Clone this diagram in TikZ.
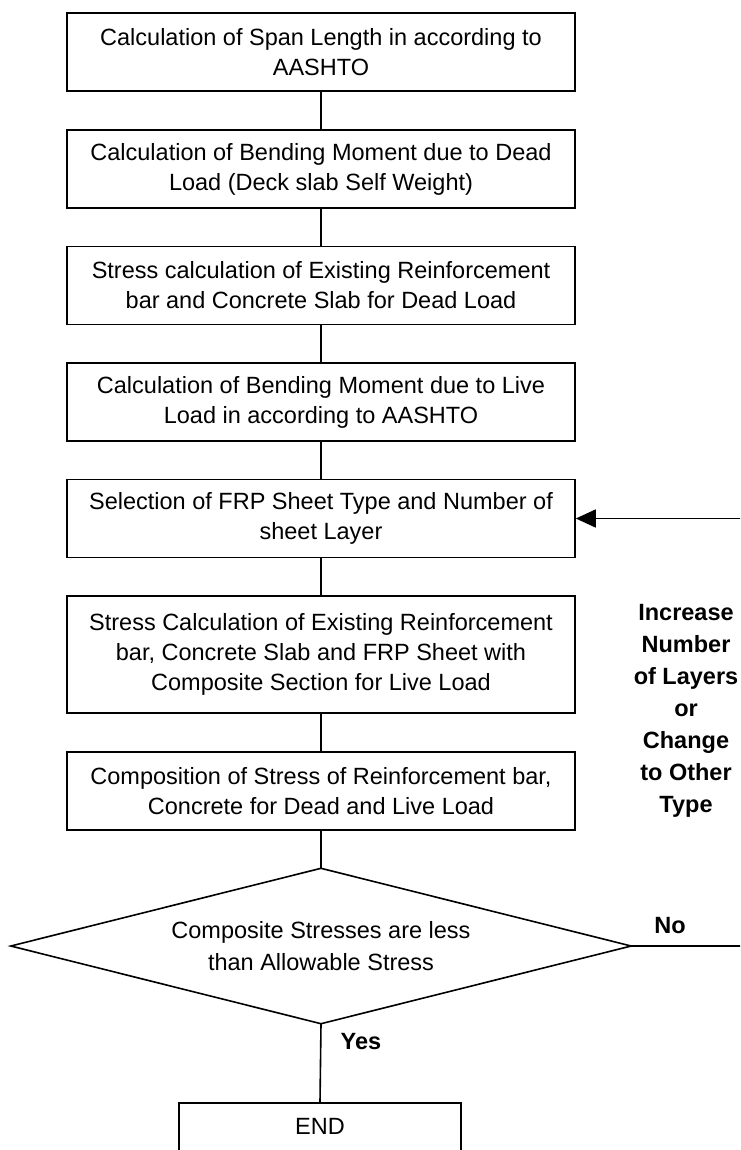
\documentclass[tikz,border=0pt]{standalone}
\usepackage{fontspec}
\setmainfont{Liberation Sans}
\usetikzlibrary{arrows.meta}
\tikzset{
  every picture/.style={x=1pt, y=-1pt},
  stepbox/.style={draw, line width=1.6pt, minimum width=508pt, minimum height=78pt,
    inner sep=0pt, align=center, font=\fontsize{23.5}{30}\selectfont},
  decision/.style={minimum width=620pt, minimum height=155pt, inner sep=0pt,
    align=center, font=\fontsize{23.5}{32}\selectfont},
  endbox/.style={stepbox, minimum width=282pt},
  link/.style={line width=1.6pt},
  loopback/.style={line width=1.6pt, -{Triangle[length=20pt, width=18pt]}},
  tag/.style={inner sep=0pt, align=center, font=\fontsize{23.5}{32}\selectfont\bfseries}
}
\begin{document}
\begin{tikzpicture}
\useasboundingbox (0,0) rectangle (740,1150);
\clip (0,0) rectangle (740,1150);

% process steps
\node[stepbox] (b1) at (321,52)    {Calculation of Span Length in according to\\AASHTO};
\node[stepbox] (b2) at (321,169)   {Calculation of Bending Moment due to Dead\\Load (Deck slab Self Weight)};
\node[stepbox] (b3) at (321,285.5) {Stress calculation of Existing Reinforcement\\bar and Concrete Slab for Dead Load};
\node[stepbox] (b4) at (321,402)   {Calculation of Bending Moment due to Live\\Load in according to AASHTO};
\node[stepbox] (b5) at (321,518.5) {Selection of FRP Sheet Type and Number of\\sheet Layer};
\node[stepbox, minimum height=117pt] (b6) at (321,654.5)
  {Stress Calculation of Existing Reinforcement\\bar, Concrete Slab and FRP Sheet with\\Composite Section for Live Load};
\node[stepbox] (b7) at (321,791)   {Composition of Stress of Reinforcement bar,\\Concrete for Dead and Live Load};

% check
\node[decision] (dia) at (321,946) {Composite Stresses are less\\than Allowable Stress};
\draw[link] (dia.north) -- (dia.east) -- (dia.south) -- (dia.west) -- cycle;

% final step
\node[endbox, anchor=north] (fin) at (320,1102) {END\\\mbox{}};

% flow
\draw[link] (b1) -- (b2);
\draw[link] (b2) -- (b3);
\draw[link] (b3) -- (b4);
\draw[link] (b4) -- (b5);
\draw[link] (b5) -- (b6);
\draw[link] (b6) -- (b7);
\draw[link] (b7) -- (dia.north);
\draw[link] (dia.south) -- (fin.north);

% feedback loop
\coordinate (turn) at (752,946);
\draw[loopback] (dia.east) -- (turn) |- (b5.east);

% labels
\node[tag] (no)  at (670,926)  {No};
\node[tag] (yes) at (361,1042) {Yes};
\node[tag] (fix) at (686,711)  {Increase\\Number\\of Layers\\or\\Change\\to Other\\Type};
\end{tikzpicture}
\end{document}
